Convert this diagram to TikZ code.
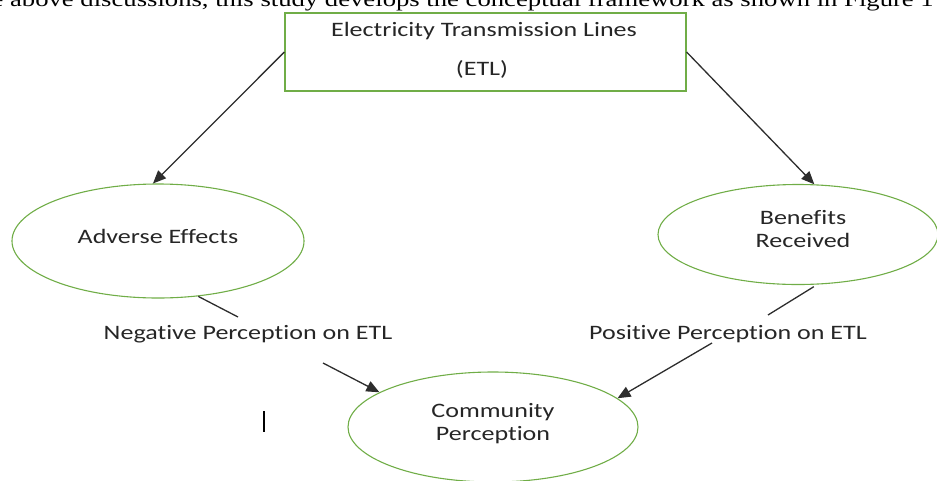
\documentclass[tikz,border=0pt]{standalone}
\usepackage{fontspec}
\setmainfont{Carlito}[FakeStretch=1.27, Ligatures={NoCommon}]
\newfontfamily\headfont{Liberation Serif}[FakeStretch=1.27]
\usetikzlibrary{shapes.geometric,arrows.meta}
\definecolor{boxgreen}{RGB}{112,173,71}
\definecolor{txt}{RGB}{38,38,38}
\definecolor{arrowc}{RGB}{45,45,45}
\tikzset{
 framebox/.style={draw=boxgreen, line width=1.2pt, rectangle, minimum width=401pt, minimum height=78pt, inner sep=0pt},
 oval/.style={draw=boxgreen, line width=1.1pt, ellipse, inner sep=0pt},
 lbl/.style={text=txt, font=\fontsize{20.5}{23}\selectfont, align=center, inner sep=0pt},
 arr/.style={draw=arrowc, line width=1.3pt, -{Triangle[length=13pt,width=11pt]}},
 plainline/.style={draw=arrowc, line width=1.3pt},
}
\begin{document}
\begin{tikzpicture}[x=1pt,y=-1pt]
\useasboundingbox (0,0) rectangle (937,480);
\clip (0,0) rectangle (937,480);
\node[anchor=base east, font=\headfont\fontsize{21}{24}\selectfont, inner sep=0pt] (head) at (934,6.5) {e above discussions, this study develops the conceptual framework as shown in Figure 1};

\node[framebox] (etl) at (485.5,52) {};
\node[lbl] (etl1) at (484,31.5) {Electricity Transmission Lines};
\node[lbl] (etl2) at (482,69) {(ETL)};

\node[oval, minimum width=292pt, minimum height=114pt] (adv) at (158,241) {};
\node[lbl] (advt) at (158,236.5) {Adverse Effects};
\node[oval, minimum width=280pt, minimum height=100pt] (ben) at (798,234.5) {};
\node[lbl] (bent) at (803,229) {Benefits\\Received};
\node[oval, minimum width=290pt, minimum height=110pt] (comm) at (493,427) {};
\node[lbl] (commt) at (493,424) {Community\\Perception};
\node[lbl] (neg) at (248,334) {Negative Perception on ETL};
\node[lbl] (pos) at (728,334) {Positive Perception on ETL};

\coordinate (negEnd) at (238,317);
\coordinate (posEnd) at (768,315);
\coordinate (negStart) at (323,363);
\coordinate (posStart) at (712,343);
\draw[arr] (etl.west) -- (adv.95);
\draw[arr] (etl.east) -- (ben.72);
\draw[plainline] (adv.-54) -- (negEnd);
\draw[plainline, shorten <=4pt] (ben.-69) -- (posEnd);
\draw[arr] (negStart) -- (comm.163);
\draw[arr] (posStart) -- (comm.13);
\draw[line width=1.6pt] (264,411) -- (264,432);
\end{tikzpicture}
\end{document}
